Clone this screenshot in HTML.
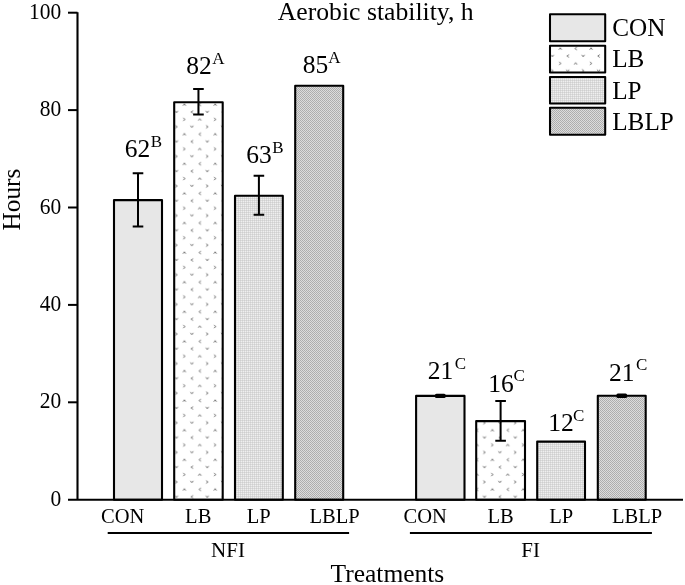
<!DOCTYPE html><html><head><meta charset="utf-8"><style>
html,body{margin:0;padding:0;background:#fff;width:685px;height:585px;overflow:hidden}
svg{display:block;filter:grayscale(1);font-family:"Liberation Serif",serif}
</style></head><body>
<svg width="685" height="585" viewBox="0 0 685 585">
<defs>
<pattern id="pcon" width="4" height="4" patternUnits="userSpaceOnUse"><rect width="4" height="4" fill="#e7e7e7"/></pattern>
<pattern id="plb" x="172.5" y="108" width="30.8" height="29.6" patternUnits="userSpaceOnUse"><rect width="30.8" height="29.6" fill="#fff"/><g stroke="#6a6a6a" stroke-width="0.9" fill="none"><path transform="translate(4 4)" d="M-1.4 -1.2 L0 0.8 L1.4 -1.2"/><path transform="translate(11.9 11.4)" d="M-1.2 -1.4 L0.8 0 L-1.2 1.4"/><path transform="translate(19.4 4)" d="M1.2 -1.4 L-0.8 0 L1.2 1.4"/><path transform="translate(27.3 11.4)" d="M-1.4 1.2 L0 -0.8 L1.4 1.2"/><path transform="translate(4 18.8)" d="M-1.2 -1.4 L0.8 0 L-1.2 1.4"/><path transform="translate(11.9 26.2)" d="M-1.4 1.2 L0 -0.8 L1.4 1.2"/><path transform="translate(19.4 18.8)" d="M-1.4 -1.2 L0 0.8 L1.4 -1.2"/><path transform="translate(27.3 26.2)" d="M1.2 -1.4 L-0.8 0 L1.2 1.4"/></g></pattern>
<pattern id="plb2" x="548.4" y="52" width="30.8" height="29.6" patternUnits="userSpaceOnUse"><rect width="30.8" height="29.6" fill="#fff"/><g stroke="#6a6a6a" stroke-width="0.9" fill="none"><path transform="translate(4 4)" d="M-1.4 -1.2 L0 0.8 L1.4 -1.2"/><path transform="translate(11.9 11.4)" d="M-1.2 -1.4 L0.8 0 L-1.2 1.4"/><path transform="translate(19.4 4)" d="M1.2 -1.4 L-0.8 0 L1.2 1.4"/><path transform="translate(27.3 11.4)" d="M-1.4 1.2 L0 -0.8 L1.4 1.2"/><path transform="translate(4 18.8)" d="M-1.2 -1.4 L0.8 0 L-1.2 1.4"/><path transform="translate(11.9 26.2)" d="M-1.4 1.2 L0 -0.8 L1.4 1.2"/><path transform="translate(19.4 18.8)" d="M-1.4 -1.2 L0 0.8 L1.4 -1.2"/><path transform="translate(27.3 26.2)" d="M1.2 -1.4 L-0.8 0 L1.2 1.4"/></g></pattern>
<pattern id="plp" width="2" height="2" patternUnits="userSpaceOnUse"><rect width="2" height="2" fill="#efefef"/><rect width="1" height="2" fill="#dcdcdc"/><rect width="2" height="1" fill="#dbdbdb"/><rect width="1" height="1" fill="#cfcfcf"/></pattern>
<pattern id="plblp" width="2" height="2" patternUnits="userSpaceOnUse"><rect width="2" height="2" fill="#dcdcdc"/><rect width="1" height="1" fill="#acacac"/><rect x="1" y="1" width="1" height="1" fill="#b0b0b0"/></pattern>
</defs>
<rect x="114.0" y="200.1" width="48.00" height="299.60" fill="#e7e7e7" stroke="#000" stroke-width="2.1" stroke-linejoin="round"/>
<rect x="174.2" y="102.2" width="48.50" height="397.50" fill="url(#plb)" stroke="#000" stroke-width="2.1" stroke-linejoin="round"/>
<rect x="235.0" y="195.7" width="47.80" height="304.00" fill="url(#plp)" stroke="#000" stroke-width="2.1" stroke-linejoin="round"/>
<rect x="295.2" y="85.8" width="48.00" height="413.90" fill="url(#plblp)" stroke="#000" stroke-width="2.1" stroke-linejoin="round"/>
<rect x="416.1" y="395.9" width="48.40" height="103.80" fill="#e7e7e7" stroke="#000" stroke-width="2.1" stroke-linejoin="round"/>
<rect x="476.2" y="421.1" width="48.80" height="78.60" fill="url(#plb)" stroke="#000" stroke-width="2.1" stroke-linejoin="round"/>
<rect x="537.2" y="441.6" width="47.80" height="58.10" fill="url(#plp)" stroke="#000" stroke-width="2.1" stroke-linejoin="round"/>
<rect x="597.8" y="395.8" width="47.90" height="103.90" fill="url(#plblp)" stroke="#000" stroke-width="2.1" stroke-linejoin="round"/>
<path d="M138.00 173.3 V226.6 M132.70 173.3 H143.30 M132.70 226.6 H143.30" stroke="#000" stroke-width="2" fill="none"/>
<path d="M198.45 88.9 V114.5 M193.15 88.9 H203.75 M193.15 114.5 H203.75" stroke="#000" stroke-width="2" fill="none"/>
<path d="M258.90 175.7 V214.7 M253.60 175.7 H264.20 M253.60 214.7 H264.20" stroke="#000" stroke-width="2" fill="none"/>
<rect x="434.90" y="393.70" width="10.8" height="4.4" rx="1.6" fill="#000"/>
<path d="M500.60 400.9 V440.8 M495.30 400.9 H505.90 M495.30 440.8 H505.90" stroke="#000" stroke-width="2" fill="none"/>
<rect x="616.35" y="393.60" width="10.8" height="4.4" rx="1.6" fill="#000"/>
<path d="M77.5 12.2 V500.7 M68 499.7 H683" stroke="#000" stroke-width="2.1" fill="none"/>
<text transform="translate(61.20 505.80) scale(1 1.035)" font-size="21.5" text-anchor="end">0</text>
<path d="M68 402.3 H77.5" stroke="#000" stroke-width="2" fill="none"/>
<text transform="translate(61.20 408.40) scale(1 1.035)" font-size="21.5" text-anchor="end">20</text>
<path d="M68 304.9 H77.5" stroke="#000" stroke-width="2" fill="none"/>
<text transform="translate(61.20 311.00) scale(1 1.035)" font-size="21.5" text-anchor="end">40</text>
<path d="M68 207.5 H77.5" stroke="#000" stroke-width="2" fill="none"/>
<text transform="translate(61.20 213.60) scale(1 1.035)" font-size="21.5" text-anchor="end">60</text>
<path d="M68 110.1 H77.5" stroke="#000" stroke-width="2" fill="none"/>
<text transform="translate(61.20 116.20) scale(1 1.035)" font-size="21.5" text-anchor="end">80</text>
<path d="M68 12.7 H77.5" stroke="#000" stroke-width="2" fill="none"/>
<text transform="translate(61.20 18.80) scale(1 1.035)" font-size="21.5" text-anchor="end">100</text>
<text transform="translate(137.40 157.00) scale(1 1.0)" font-size="25.5" text-anchor="middle">62</text>
<text transform="translate(150.85 146.60) scale(1 1.0)" font-size="17.0">B</text>
<text transform="translate(198.90 74.40) scale(1 1.0)" font-size="25.5" text-anchor="middle">82</text>
<text transform="translate(212.20 64.00) scale(1 1.0)" font-size="17.0">A</text>
<text transform="translate(258.90 163.20) scale(1 1.0)" font-size="25.5" text-anchor="middle">63</text>
<text transform="translate(272.20 153.00) scale(1 1.0)" font-size="17.0">B</text>
<text transform="translate(315.40 73.20) scale(1 1.0)" font-size="25.5" text-anchor="middle">85</text>
<text transform="translate(328.30 63.30) scale(1 1.0)" font-size="17.0">A</text>
<text transform="translate(440.60 379.20) scale(1 1.0)" font-size="25.5" text-anchor="middle">21</text>
<text transform="translate(454.70 368.90) scale(1 1.0)" font-size="17.0">C</text>
<text transform="translate(501.10 391.60) scale(1 1.0)" font-size="25.5" text-anchor="middle">16</text>
<text transform="translate(513.40 380.60) scale(1 1.0)" font-size="17.0">C</text>
<text transform="translate(560.90 431.20) scale(1 1.0)" font-size="25.5" text-anchor="middle">12</text>
<text transform="translate(573.00 421.00) scale(1 1.0)" font-size="17.0">C</text>
<text transform="translate(621.80 380.90) scale(1 1.0)" font-size="25.5" text-anchor="middle">21</text>
<text transform="translate(635.90 369.60) scale(1 1.0)" font-size="17.0">C</text>
<text transform="translate(122.70 522.50) scale(1 1.0)" font-size="20.5" text-anchor="middle">CON</text>
<text transform="translate(198.20 522.50) scale(1 1.0)" font-size="20.5" text-anchor="middle">LB</text>
<text transform="translate(258.80 522.50) scale(1 1.0)" font-size="20.5" text-anchor="middle">LP</text>
<text transform="translate(334.50 522.50) scale(1 1.0)" font-size="20.5" text-anchor="middle">LBLP</text>
<text transform="translate(425.10 522.50) scale(1 1.0)" font-size="20.5" text-anchor="middle">CON</text>
<text transform="translate(500.60 522.50) scale(1 1.0)" font-size="20.5" text-anchor="middle">LB</text>
<text transform="translate(561.10 522.50) scale(1 1.0)" font-size="20.5" text-anchor="middle">LP</text>
<text transform="translate(637.00 522.50) scale(1 1.0)" font-size="20.5" text-anchor="middle">LBLP</text>
<path d="M107.7 533 H349.1 M409.9 533 H651.9" stroke="#000" stroke-width="2.2" fill="none"/>
<text transform="translate(228.00 556.60) scale(1 1.0)" font-size="21" text-anchor="middle">NFI</text>
<text transform="translate(530.70 556.60) scale(1 1.0)" font-size="21" text-anchor="middle">FI</text>
<text transform="translate(387.40 582.00) scale(1 1.0)" font-size="25.5" text-anchor="middle">Treatments</text>
<text transform="translate(375.70 19.70) scale(1 0.985)" font-size="25.7" text-anchor="middle">Aerobic stability, h</text>
<text transform="translate(20.2 199.6) scale(1 1.01) rotate(-90)" font-size="25" text-anchor="middle">Hours</text>
<rect x="550" y="14.3" width="55.2" height="26.90" fill="#e7e7e7" stroke="#000" stroke-width="2.05" stroke-linejoin="round"/>
<text transform="translate(612.20 36.40) scale(1 0.98)" font-size="25.2">CON</text>
<rect x="550" y="45.7" width="55.2" height="26.80" fill="url(#plb2)" stroke="#000" stroke-width="2.05" stroke-linejoin="round"/>
<text transform="translate(612.20 67.40) scale(1 0.98)" font-size="25.2">LB</text>
<rect x="550" y="76.9" width="55.2" height="26.50" fill="url(#plp)" stroke="#000" stroke-width="2.05" stroke-linejoin="round"/>
<text transform="translate(612.20 98.50) scale(1 0.98)" font-size="25.2">LP</text>
<rect x="550" y="107.8" width="55.2" height="27.00" fill="url(#plblp)" stroke="#000" stroke-width="2.05" stroke-linejoin="round"/>
<text transform="translate(612.20 129.50) scale(1 0.98)" font-size="25.2">LBLP</text>
</svg></body></html>
